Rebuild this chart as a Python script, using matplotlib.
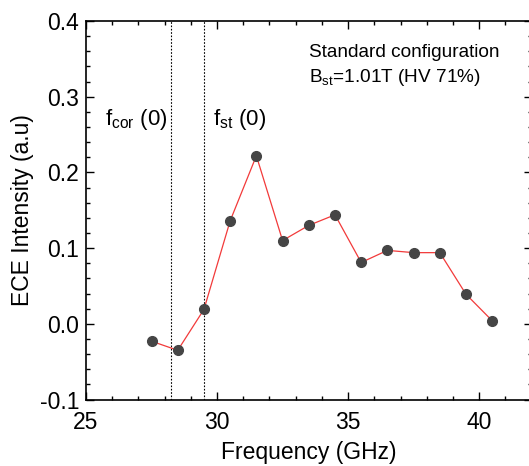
import matplotlib
matplotlib.use("Agg")
import matplotlib.pyplot as plt
from matplotlib.ticker import MultipleLocator, FormatStrFormatter

plt.rcParams["font.family"] = ["Liberation Sans", "DejaVu Sans"]
plt.rcParams["mathtext.fontset"] = "custom"
plt.rcParams["mathtext.rm"] = "Liberation Sans"
plt.rcParams["mathtext.it"] = "Liberation Sans"

freq_ghz = [27.5, 28.5, 29.5, 30.5, 31.5, 32.5, 33.5, 34.5, 35.5, 36.5, 37.5, 38.5, 39.5, 40.5]
ece_intensity = [-0.023, -0.035, 0.019, 0.136, 0.222, 0.110, 0.130, 0.144, 0.081,
                 0.097, 0.094, 0.094, 0.039, 0.004]
f_cor0 = 28.25
f_st0 = 29.52

fig = plt.figure(figsize=(5.29, 4.66), dpi=100)
ax = fig.add_axes([0.1626, 0.1427, 0.8422, 0.8122])

ax.plot(freq_ghz, ece_intensity, color="#f23a3a", linewidth=0.9, zorder=2)
ax.plot(freq_ghz, ece_intensity, linestyle="none", marker="o", markersize=7,
        color="#454545", markeredgecolor="#454545", zorder=3)

ax.axvline(f_cor0, color="black", linestyle=(0, (1.5, 1.5)), linewidth=0.8, zorder=1)
ax.axvline(f_st0, color="black", linestyle=(0, (1.5, 1.5)), linewidth=0.8, zorder=1)

ax.set_xlim(25, 42)
ax.set_ylim(-0.1, 0.4)
ax.xaxis.set_major_locator(MultipleLocator(5))
ax.xaxis.set_minor_locator(MultipleLocator(1))
ax.yaxis.set_major_locator(MultipleLocator(0.1))
ax.yaxis.set_minor_locator(MultipleLocator(0.02))
ax.yaxis.set_major_formatter(FormatStrFormatter("%.1f"))
ax.tick_params(which="both", direction="in", top=True, right=True, labelsize=16.5, width=1.0)
ax.tick_params(which="major", length=6)
ax.tick_params(axis="x", which="major", pad=8)
ax.tick_params(axis="y", which="major", pad=5)
ax.tick_params(which="minor", length=3)
for side in ax.spines.values():
    side.set_linewidth(1.2)
ax.spines["right"].set_visible(False)

ax.set_xlabel("Frequency (GHz)", fontsize=16.5, labelpad=5)
ax.set_ylabel("ECE Intensity (a.u)", fontsize=16.5, labelpad=4)

ax.text(25.73, 0.263, r"f$_{\mathrm{cor}}$ (0)", fontsize=16)
ax.text(29.84, 0.263, r"f$_{\mathrm{st}}$ (0)", fontsize=16)
ax.text(33.5, 0.353, "Standard configuration", fontsize=13.7)
ax.text(33.5, 0.319, r"B$_{\mathrm{st}}$=1.01T (HV 71%)", fontsize=13.7)

fig.savefig("out.png", dpi=100)
